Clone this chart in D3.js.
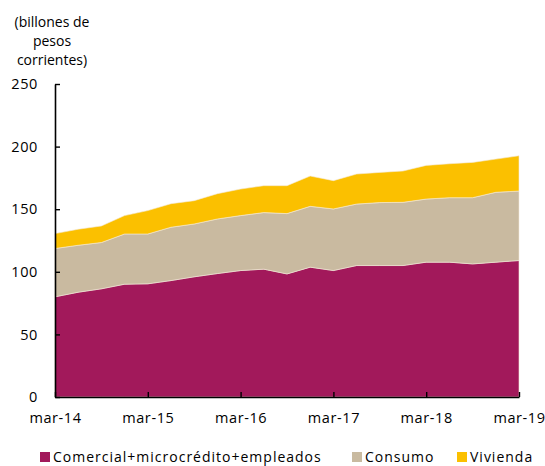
<!DOCTYPE html>
<html>
<head>
<meta charset="utf-8">
<script src="https://cdn.jsdelivr.net/npm/d3@7"></script>
<style>
  body { margin: 0; background: #fff; }
  text { font-family: "Open Sans", "Lato", sans-serif; fill: #000; }
</style>
</head>
<body>
<div id="chart"></div>
<script>
(function() {
  // quarterly, mar-14 .. mar-19
  var quarters = ['mar-14','jun-14','sep-14','dic-14','mar-15','jun-15','sep-15','dic-15',
                  'mar-16','jun-16','sep-16','dic-16','mar-17','jun-17','sep-17','dic-17',
                  'mar-18','jun-18','sep-18','dic-18','mar-19'];
  var comercial = [80, 83.7, 86.4, 90.1, 90.4, 93, 96, 98.6, 101, 102.1, 98.3, 103.7,
                   101, 105, 105, 105, 107.7, 107.7, 106.3, 107.7, 109];
  var consumo = [38.6, 37.5, 37, 40.1, 39.8, 42.6, 42.2, 43.6, 43.9, 45.2, 48.2, 48.6,
                 49.2, 49.1, 50.3, 50.5, 50.4, 51.5, 52.9, 55.8, 55.5];
  var vivienda = [11.9, 12.8, 13.2, 14.7, 18.7, 18.8, 18.6, 20.2, 21.2, 21.5, 22.3, 24.2,
                  22.6, 24, 24.1, 25, 26.9, 27.1, 28.2, 26.5, 28.2];
  var seriesNames = ['Comercial+microcrédito+empleados', 'Consumo', 'Vivienda'];
  var colors = ['#A2195B', '#C9BAA0', '#FBC000'];
  var xTicks = ['mar-14','mar-15','mar-16','mar-17','mar-18','mar-19'];
  var yTicks = [0, 50, 100, 150, 200, 250];

  var margin = {top: 84, right: 26, bottom: 69, left: 55},
      width = 545 - margin.left - margin.right,
      height = 466 - margin.top - margin.bottom;

  var rows = quarters.map(function(q, i) {
    return {q: q, c0: comercial[i], c1: consumo[i], c2: vivienda[i]};
  });

  var stack = d3.stack().keys(['c0', 'c1', 'c2']);
  var layers = stack(rows);

  var xPositionScale = d3.scalePoint().domain(quarters).range([0, width]);
  var yPositionScale = d3.scaleLinear().domain([0, 250]).range([height, 0]);

  var svg = d3.select("#chart")
      .append("svg")
      .attr("width", 545)
      .attr("height", 466);

  var g = svg.append("g")
      .attr("transform", "translate(" + margin.left + "," + margin.top + ")");

  var area = d3.area()
      .x(function(d) { return xPositionScale(d.data.q); })
      .y0(function(d) { return yPositionScale(d[0]); })
      .y1(function(d) { return yPositionScale(d[1]); });

  g.selectAll(".layer")
      .data(layers)
      .enter().append("path")
      .attr("class", "layer")
      .attr("d", area)
      .attr("fill", function(d, i) { return colors[i]; })
      .attr("stroke", "#f3ead8")
      .attr("stroke-width", 0.6);

  // x axis
  var xAxis = d3.axisBottom(xPositionScale)
      .tickValues(xTicks)
      .tickSizeInner(-5)
      .tickSizeOuter(0)
      .tickPadding(16);

  var xg = g.append("g")
      .attr("transform", "translate(0," + height + ")")
      .call(xAxis);
  xg.select(".domain").attr("stroke", "#000").attr("stroke-width", 1.6);
  xg.selectAll(".tick line").attr("stroke", "#000").attr("stroke-width", 1.4);
  xg.selectAll(".tick text").style("font-size", "14.5px").style("letter-spacing", "0.6px").attr("fill", "#000");

  // y axis
  var yAxis = d3.axisLeft(yPositionScale)
      .tickValues(yTicks)
      .tickSizeInner(-5)
      .tickSizeOuter(0)
      .tickPadding(17);

  var yg = g.append("g").call(yAxis);
  yg.select(".domain").attr("stroke", "#000").attr("stroke-width", 1.6);
  yg.selectAll(".tick line").attr("stroke", "#000").attr("stroke-width", 1.4);
  yg.selectAll(".tick text").style("font-size", "14.5px").style("letter-spacing", "0.6px").attr("fill", "#000");

  // unit label
  svg.append("text")
      .attr("x", 52)
      .attr("y", 27)
      .style("text-anchor", "middle")
      .style("font-size", "14px")
      .selectAll("tspan")
      .data(['(billones de', 'pesos', 'corrientes)'])
      .enter().append("tspan")
      .attr("x", 52)
      .attr("dy", function(d, i) { return i === 0 ? 0 : 19; })
      .text(function(d) { return d; });

  // legend
  var legendX = [40, 352, 457];
  var legend = svg.selectAll(".legend")
      .data(seriesNames)
      .enter().append("g")
      .attr("class", "legend")
      .attr("transform", function(d, i) { return "translate(" + legendX[i] + ",452)"; });

  legend.append("rect")
      .attr("width", 10)
      .attr("height", 10)
      .attr("fill", function(d, i) { return colors[i]; });

  legend.append("text")
      .attr("x", 13)
      .attr("y", 10)
      .style("font-size", "14px")
      .style("letter-spacing", "1px")
      .text(function(d) { return d; });
})();
</script>
</body>
</html>
